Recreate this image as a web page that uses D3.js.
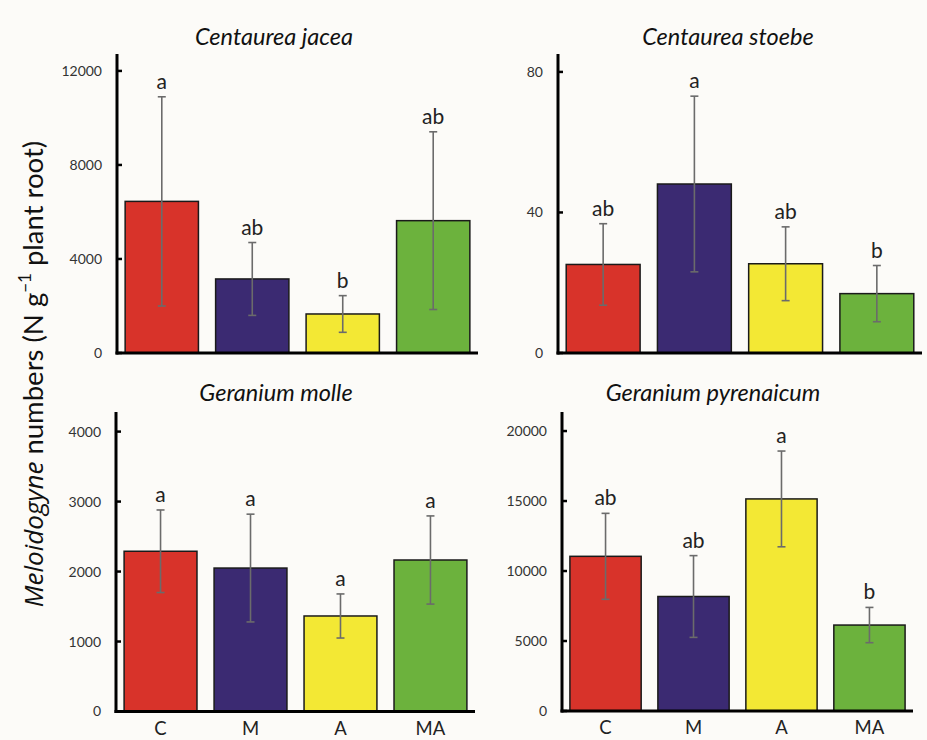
<!DOCTYPE html>
<html>
<head>
<meta charset="utf-8">
<script src="https://cdn.jsdelivr.net/npm/d3@7"></script>
<style>
  html, body { margin: 0; padding: 0; background: #fcfbf8; }
  svg { display: block; }
  text { font-family: Lato, "Open Sans", sans-serif; }
</style>
</head>
<body>
<svg id="chart" width="927" height="740"></svg>
<script>
// ---- data ----
const treatments = ["C", "M", "A", "MA"];
const colors = ["#d8332a", "#3b2a72", "#f3e834", "#6cb23d"];

const speciesNames = ["Centaurea jacea", "Centaurea stoebe", "Geranium molle", "Geranium pyrenaicum"];

const jaceaMeans  = [6450, 3150, 1660, 5630];
const jaceaErrors = [4450, 1550, 780, 3780];
const jaceaLetters = ["a", "ab", "b", "ab"];
const jaceaTicks = [0, 4000, 8000, 12000];

const stoebeMeans  = [25.2, 48.1, 25.4, 16.9];
const stoebeErrors = [11.6, 25.0, 10.5, 8.0];
const stoebeLetters = ["ab", "a", "ab", "b"];
const stoebeTicks = [0, 40, 80];

const molleMeans  = [2290, 2050, 1365, 2165];
const molleErrors = [590, 770, 315, 630];
const molleLetters = ["a", "a", "a", "a"];
const molleTicks = [0, 1000, 2000, 3000, 4000];

const pyrenMeans  = [11050, 8180, 15150, 6140];
const pyrenErrors = [3070, 2920, 3420, 1260];
const pyrenLetters = ["ab", "ab", "a", "b"];
const pyrenTicks = [0, 5000, 10000, 15000, 20000];

const yMaxes = [12720, 85.1, 4280, 21360];

// ---- layout ----
const panels = [
  { name: speciesNames[0], means: jaceaMeans, errs: jaceaErrors, letters: jaceaLetters, ticks: jaceaTicks, ymax: yMaxes[0],
    x0: 117, x1: 478, y0: 353, y1: 54, titleX: 274, titleY: 45, xlabels: false },
  { name: speciesNames[1], means: stoebeMeans, errs: stoebeErrors, letters: stoebeLetters, ticks: stoebeTicks, ymax: yMaxes[1],
    x0: 558, x1: 922, y0: 353, y1: 54, titleX: 728, titleY: 45, xlabels: false },
  { name: speciesNames[2], means: molleMeans, errs: molleErrors, letters: molleLetters, ticks: molleTicks, ymax: yMaxes[2],
    x0: 116, x1: 475, y0: 711.5, y1: 412, titleX: 276, titleY: 401, xlabels: true },
  { name: speciesNames[3], means: pyrenMeans, errs: pyrenErrors, letters: pyrenLetters, ticks: pyrenTicks, ymax: yMaxes[3],
    x0: 562, x1: 913, y0: 711, y1: 412, titleX: 713, titleY: 401, xlabels: true }
];

const svg = d3.select("#chart");

panels.forEach(p => {
  const g = svg.append("g");
  const x = d3.scaleBand().domain(treatments).range([p.x0, p.x1]).paddingInner(0.19).paddingOuter(0.09);
  const y = d3.scaleLinear().domain([0, p.ymax]).range([p.y0, p.y1]);

  // bars
  g.selectAll("rect.bar").data(treatments).join("rect")
    .attr("class", "bar")
    .attr("x", d => x(d))
    .attr("width", x.bandwidth())
    .attr("y", (d, i) => y(p.means[i]))
    .attr("height", (d, i) => y(0) - y(p.means[i]))
    .attr("fill", (d, i) => colors[i])
    .attr("stroke", "#1a1a1a")
    .attr("stroke-width", 1.5);

  // error bars
  const eb = g.selectAll("g.err").data(treatments).join("g").attr("class", "err");
  eb.append("line")
    .attr("x1", d => x(d) + x.bandwidth() / 2)
    .attr("x2", d => x(d) + x.bandwidth() / 2)
    .attr("y1", (d, i) => y(p.means[i] + p.errs[i]))
    .attr("y2", (d, i) => y(p.means[i] - p.errs[i]))
    .attr("stroke", "#6b6b6b").attr("stroke-width", 1.6);
  [1, -1].forEach(s => {
    eb.append("line")
      .attr("x1", d => x(d) + x.bandwidth() / 2 - 4)
      .attr("x2", d => x(d) + x.bandwidth() / 2 + 4)
      .attr("y1", (d, i) => y(p.means[i] + s * p.errs[i]))
      .attr("y2", (d, i) => y(p.means[i] + s * p.errs[i]))
      .attr("stroke", "#6b6b6b").attr("stroke-width", 1.6);
  });

  // letters
  g.selectAll("text.letter").data(treatments).join("text")
    .attr("class", "letter")
    .attr("x", d => x(d) + x.bandwidth() / 2)
    .attr("y", (d, i) => y(p.means[i] + p.errs[i]) - 8)
    .attr("text-anchor", "middle")
    .attr("font-size", 21)
    .attr("fill", "#222")
    .text((d, i) => p.letters[i]);

  // y axis
  const yAxis = d3.axisLeft(y).tickValues(p.ticks).tickSize(0).tickPadding(15).tickFormat(d3.format("d"));
  const ya = g.append("g").attr("transform", `translate(${p.x0},0)`).call(yAxis);
  ya.select(".domain").remove();
  ya.selectAll("text").attr("font-size", 14).attr("fill", "#333").attr("font-family", "Lato, sans-serif");
  // inward ticks
  g.selectAll("line.tick").data(p.ticks).join("line")
    .attr("x1", p.x0).attr("x2", p.x0 + 5)
    .attr("y1", d => y(d)).attr("y2", d => y(d))
    .attr("stroke", "#000").attr("stroke-width", 2.5);
  // axis lines
  g.append("line").attr("x1", p.x0).attr("x2", p.x0).attr("y1", p.y1).attr("y2", p.y0 + 1.5)
    .attr("stroke", "#000").attr("stroke-width", 3);
  g.append("line").attr("x1", p.x0 - 1.5).attr("x2", p.x1).attr("y1", p.y0).attr("y2", p.y0)
    .attr("stroke", "#000").attr("stroke-width", 3);

  // x labels
  if (p.xlabels) {
    const xAxis = d3.axisBottom(x).tickSize(0).tickPadding(0);
    const xa = g.append("g").attr("transform", `translate(0,${p.y0})`).call(xAxis);
    xa.select(".domain").remove();
    xa.selectAll("text").attr("font-size", 18.5).attr("fill", "#222").attr("dy", null).attr("y", 23)
      .attr("font-family", "Lato, sans-serif");
  }

  // title
  g.append("text")
    .attr("x", p.titleX).attr("y", p.titleY)
    .attr("text-anchor", "middle")
    .attr("font-family", "'Open Sans', sans-serif")
    .attr("font-size", 23.5).attr("font-style", "italic").attr("fill", "#111")
    .text(p.name);
});

// y-axis title
const yt = svg.append("text")
  .attr("transform", "translate(43,374) rotate(-90)")
  .attr("text-anchor", "middle")
  .attr("font-size", 27.5).attr("fill", "#111");
yt.append("tspan").attr("font-style", "italic").attr("font-family", "'Open Sans', sans-serif").attr("font-size", 26).text("Meloidogyne");
yt.append("tspan").text(" numbers (N g");
yt.append("tspan").attr("font-size", 17).attr("dy", -12).text("\u22121");
yt.append("tspan").attr("dy", 12).text(" plant root)");
</script>
</body>
</html>
